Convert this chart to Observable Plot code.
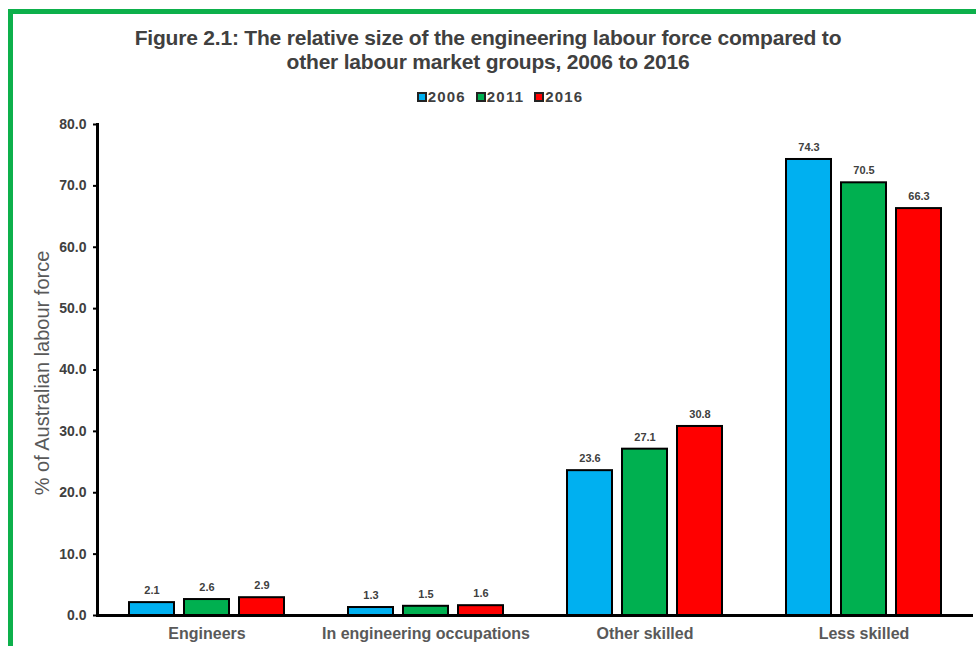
<!DOCTYPE html>
<html>
<head>
<meta charset="utf-8">
<script src="https://cdn.jsdelivr.net/npm/d3@7"></script>
<script src="https://cdn.jsdelivr.net/npm/@observablehq/plot@0.6"></script>
<style>
  html, body { margin: 0; padding: 0; background: #ffffff; }
  body { width: 976px; height: 646px; position: relative; overflow: hidden; font-family: "Liberation Sans", Arial, sans-serif; }
  #frame { position: absolute; left: 8px; top: 9px; width: 1000px; height: 700px; border-left: 5px solid #0DB04B; border-top: 5px solid #0DB04B; }
  #title { position: absolute; left: 0; width: 976px; top: 26px; text-align: center; font-weight: bold; font-size: 21px; line-height: 24px; color: #404040; letter-spacing: -0.2px; }
  #legend { position: absolute; left: 0; width: 1000px; top: 88px; text-align: center; font-weight: bold; font-size: 15px; color: #404040; letter-spacing: 1.2px; }
  #legend span.item { margin: 0 5px; }
  #legend span.sw { display: inline-block; width: 6px; height: 6px; border: 2px solid #222; margin-right: 1px; vertical-align: 0px; }
  #chart { position: absolute; left: 0; top: 110px; }
</style>
</head>
<body>
<div id="frame"></div>
<div id="title">Figure 2.1: The relative size of the engineering labour force compared to<br>other labour market groups, 2006 to 2016</div>
<div id="legend"></div>
<div id="chart"></div>
<script>
// Labour market groups and census years
const categories = ["Engineers", "In engineering occupations", "Other skilled", "Less skilled"];
const years = ["2006", "2011", "2016"];

// Share of the Australian labour force (%) for each group, by year
const values2006 = [2.1, 1.3, 23.6, 74.3];
const values2011 = [2.6, 1.5, 27.1, 70.5];
const values2016 = [2.9, 1.6, 30.8, 66.3];

const yearColors = ["#00B0F0", "#00B050", "#FF0000"];
const yTicks = [0, 10, 20, 30, 40, 50, 60, 70, 80];
const yLabel = "% of Australian labour force";

const series = [values2006, values2011, values2016];
const rows = [];
years.forEach((year, i) => {
  categories.forEach((cat, j) => {
    rows.push({category: cat, year, value: series[i][j]});
  });
});

// Legend
const legend = document.getElementById("legend");
years.forEach((year, i) => {
  const item = document.createElement("span");
  item.className = "item";
  item.innerHTML = `<span class="sw" style="background:${yearColors[i]}"></span>${year}`;
  legend.appendChild(item);
});

const font = "'Liberation Sans', Arial, sans-serif";

const chart = Plot.plot({
  width: 976,
  height: 536,
  marginTop: 14,
  marginBottom: 31,
  marginLeft: 97,
  marginRight: 3,
  style: {fontFamily: font, background: "transparent", overflow: "visible"},
  fx: {domain: categories, padding: 0, label: null},
  x: {domain: years, paddingInner: 0.18, paddingOuter: 0.57, axis: null},
  y: {domain: [0, 80], label: null},
  color: {domain: years, range: yearColors},
  marks: [
    Plot.barY(rows, {
      fx: "category", x: "year", y: "value",
      fill: "year", stroke: "#000", strokeWidth: 2
    }),
    Plot.text(rows, {
      fx: "category", x: "year", y: "value",
      text: d => d.value.toFixed(1),
      dy: -12, fontSize: 11, fontWeight: "bold", fill: "#404040"
    }),
    Plot.ruleY([0], {stroke: "#000", strokeWidth: 3}),
    Plot.frame({anchor: "left", facetAnchor: "left", stroke: "#000", strokeWidth: 3}),
    Plot.axisY({
      ticks: yTicks, tickFormat: d => d.toFixed(1), tickSize: 4, tickPadding: 7,
      strokeWidth: 2, fontSize: 14, fontWeight: "bold", fill: "#404040", stroke: "#000", label: null
    }),
    Plot.text([yLabel], {
      frameAnchor: "left", textAnchor: "middle", rotate: -90, dx: -55, dy: 3, facetAnchor: "left",
      fontSize: 20, fill: "#595959"
    }),
    Plot.axisFx({
      anchor: "bottom", tickSize: 0, tickPadding: 12,
      fontSize: 16, fontWeight: "bold", fill: "#595959", label: null
    })
  ]
});

document.getElementById("chart").appendChild(chart);
</script>
</body>
</html>
